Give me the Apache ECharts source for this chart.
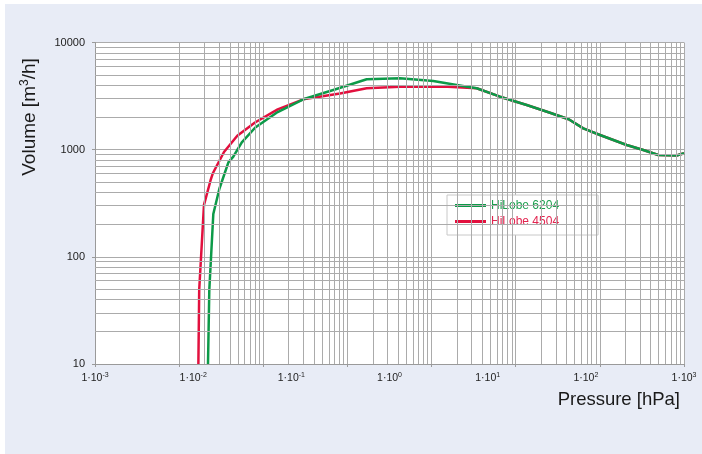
<!DOCTYPE html>
<html><head><meta charset="utf-8">
<script src="https://cdn.jsdelivr.net/npm/echarts@6/dist/echarts.min.js"></script>
<style>
html,body{margin:0;padding:0;background:#fff;}
#bg{position:absolute;left:5px;top:4px;width:697px;height:450px;background:#e8ecf6;}
#main{position:absolute;left:0;top:0;width:702px;height:454px;}
</style></head><body>
<div id="bg"></div><div id="main"></div>
<script>
// HiLobe 6204 (green)
const pressure6204 = [0.01416, 0.0146, 0.01604, 0.0185, 0.02285, 0.02564, 0.03129, 0.04294, 0.07263, 0.1323, 0.2676, 0.5857, 1.279, 2.793, 4.834, 7.729, 13.35, 24.98, 43.13, 66.89, 94.19, 139.4, 260.7, 384.8, 547, 842.2, 1000];
const volume6204   = [10, 49, 251, 432, 762, 860, 1169, 1610, 2246, 2951, 3604, 4535, 4634, 4373, 4013, 3738, 3121, 2611, 2213, 1924, 1582, 1370, 1106, 993, 892, 882, 925];
// HiLobe 4504 (red)
const pressure4504 = [0.0113, 0.01152, 0.01289, 0.01502, 0.01592, 0.02061, 0.02815, 0.04264, 0.07263, 0.1323, 0.3131, 0.5857, 1.279, 3.925, 7.729, 13.35, 24.98, 43.13, 66.89, 94.19, 139.4, 260.7, 384.8, 547, 842.2, 1000];
const volume4504   = [10, 49, 305, 516, 606, 951, 1347, 1793, 2380, 2951, 3343, 3738, 3861, 3861, 3738, 3121, 2611, 2213, 1924, 1582, 1370, 1106, 993, 892, 882, 925];

const seriesNames = ['HiLobe 6204', 'HiLobe 4504'];
const xLabelMantissa = '1·10';
const xAxisTitle = 'Pressure [hPa]';
const yAxisTitle = ['Volume [m', '3', '/h]'];

const FONT = "'Liberation Sans', Arial, Helvetica, sans-serif";
const GRID_COLOR = '#ababab';
const AXIS_COLOR = '#9a9a9a';

function zip(xs, ys) { return xs.map((x, i) => [x, ys[i]]); }

// log-spaced minor grid lines (grid axis: 7 decades, y axis: 3 decades)
const minorLines = [];
for (let k = -3; k <= 3; k++) for (let d = 2; d <= 9; d++) minorLines.push({ xAxis: d * Math.pow(10, k) });
for (let k = 1; k <= 3; k++) for (let d = 2; d <= 9; d++) minorLines.push({ yAxis: d * Math.pow(10, k) });

const chart = echarts.init(document.getElementById('main'));
chart.setOption({
  animation: false,
  backgroundColor: 'transparent',
  grid: { left: 95, right: 18, top: 42.5, bottom: 90, show: true, backgroundColor: '#fff', borderWidth: 0 },
  legend: {
    orient: 'vertical', left: 447, top: 195,
    padding: [4, 39, 7, 8], itemGap: 3, itemWidth: 31, itemHeight: 3, icon: 'rect',
    backgroundColor: '#fff', borderColor: '#c8c8c8', borderWidth: 1, selectedMode: false,
    textStyle: { fontSize: 12, fontFamily: FONT, lineHeight: 13 },
    data: [
      { name: seriesNames[0], textStyle: { color: '#1a9e4c' } },
      { name: seriesNames[1], textStyle: { color: '#e2244f' } }
    ]
  },
  xAxis: [
    {
      type: 'log', logBase: 10, min: 0.001, max: 10000, position: 'bottom',
      axisLine: { show: true, lineStyle: { color: AXIS_COLOR, width: 1 } },
      axisTick: { show: true, inside: false, length: 3, lineStyle: { color: AXIS_COLOR } },
      axisLabel: { show: false },
      splitLine: { show: true, lineStyle: { color: GRID_COLOR, width: 1 } }
    },
    {
      type: 'log', logBase: 10, min: 0.001, max: 1000, position: 'bottom',
      axisLine: { show: false }, axisTick: { show: false }, splitLine: { show: false },
      axisLabel: {
        show: true, margin: 8,
        formatter: v => '{b|' + xLabelMantissa + '}{s|' + Math.round(Math.log10(v)) + '}',
        rich: {
          b: { fontSize: 10.5, color: '#222', fontFamily: FONT, lineHeight: 12 },
          s: { fontSize: 7, color: '#222', fontFamily: FONT, lineHeight: 6, verticalAlign: 'top' }
        }
      }
    }
  ],
  yAxis: {
    type: 'log', logBase: 10, min: 10, max: 10000,
    axisLine: { show: true, lineStyle: { color: AXIS_COLOR, width: 1 } },
    axisTick: { show: true, inside: false, length: 3, lineStyle: { color: AXIS_COLOR } },
    axisLabel: { fontSize: 11, color: '#222', fontFamily: FONT, margin: 10, formatter: v => String(Math.round(v)) },
    splitLine: { show: true, lineStyle: { color: GRID_COLOR, width: 1 } }
  },
  graphic: [
    {
      type: 'text', x: 30, y: 117, rotation: Math.PI / 2,
      style: {
        text: '{a|' + yAxisTitle[0] + '}{s|' + yAxisTitle[1] + '}{a|' + yAxisTitle[2] + '}',
        align: 'center', verticalAlign: 'middle', fill: '#1a1a1a',
        rich: {
          a: { fontSize: 19, fontFamily: FONT, fill: '#1a1a1a', lineHeight: 22 },
          s: { fontSize: 12, fontFamily: FONT, fill: '#1a1a1a', lineHeight: 12, verticalAlign: 'top' }
        }
      }
    },
    {
      type: 'text', x: 680, y: 400,
      style: { text: xAxisTitle, align: 'right', verticalAlign: 'middle', fill: '#1a1a1a', font: '18.5px ' + FONT }
    }
  ],
  series: [
    {
      name: 'grid', type: 'line', xAxisIndex: 0, yAxisIndex: 0, data: [], silent: true, z: 1,
      markLine: {
        silent: true, symbol: ['none', 'none'], label: { show: false }, animation: false,
        lineStyle: { color: GRID_COLOR, width: 1, type: 'solid' },
        emphasis: { disabled: true },
        data: minorLines
      }
    },
    {
      name: seriesNames[1], type: 'line', xAxisIndex: 1, yAxisIndex: 0, z: 3,
      data: zip(pressure4504, volume4504), showSymbol: false, smooth: false,
      color: '#e2103e', lineStyle: { color: '#e2103e', width: 2.5, join: 'round' }
    },
    {
      name: seriesNames[0], type: 'line', xAxisIndex: 1, yAxisIndex: 0, z: 4,
      data: zip(pressure6204, volume6204), showSymbol: false, smooth: false,
      color: '#0c9a48', lineStyle: { color: '#0c9a48', width: 2.5, join: 'round' }
    }
  ]
});
</script>
</body></html>
